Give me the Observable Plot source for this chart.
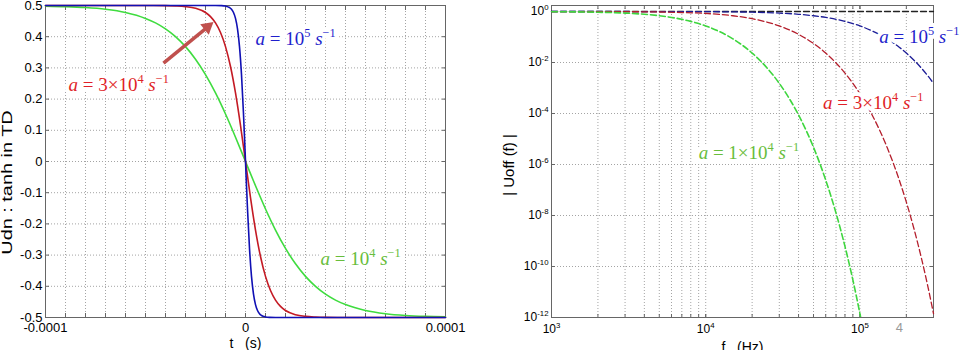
<!DOCTYPE html>
<html>
<head>
<meta charset="utf-8">
<script src="https://cdn.jsdelivr.net/npm/d3@7"></script>
<script src="https://cdn.jsdelivr.net/npm/@observablehq/plot@0.6"></script>
<style>
  html,body{margin:0;padding:0;background:#fff;}
  #wrap{display:flex;width:961px;height:350px;overflow:hidden;}
  #wrap svg{display:block;flex:none;}
</style>
</head>
<body>
<div id="wrap"></div>
<script>
// ================= LEFT PANEL : Udn(t) =================
const tGreen = [-10e-5,-9e-5,-8e-5,-7e-5,-6e-5,-5e-5,-4.5e-5,-4e-5,-3.5e-5,-3e-5,-2.5e-5,-2e-5,-1.5e-5,-1e-5,-0.5e-5,0,
                0.5e-5,1e-5,1.5e-5,2e-5,2.5e-5,3e-5,3.5e-5,4e-5,4.5e-5,5e-5,6e-5,7e-5,8e-5,9e-5,10e-5];
const uGreen = [0.4981,0.4965,0.4935,0.4879,0.4776,0.4586,0.4442,0.4251,0.4002,0.3681,0.3279,0.2785,0.2196,0.1521,0.0779,0,
                -0.0779,-0.1521,-0.2196,-0.2785,-0.3279,-0.3681,-0.4002,-0.4251,-0.4442,-0.4586,-0.4776,-0.4879,-0.4935,-0.4965,-0.4981];
const tRed = [-10e-5,-5e-5,-4e-5,-3.5e-5,-3e-5,-2.5e-5,-2e-5,-1.75e-5,-1.5e-5,-1.25e-5,-1e-5,-0.75e-5,-0.5e-5,-0.25e-5,0,
              0.25e-5,0.5e-5,0.75e-5,1e-5,1.25e-5,1.5e-5,1.75e-5,2e-5,2.5e-5,3e-5,3.5e-5,4e-5,5e-5,10e-5];
const uRed = [0.5,0.4999,0.4995,0.4986,0.4965,0.4911,0.4775,0.4644,0.4442,0.4134,0.3682,0.3044,0.2196,0.1157,0,
              -0.1157,-0.2196,-0.3044,-0.3682,-0.4134,-0.4442,-0.4644,-0.4775,-0.4911,-0.4965,-0.4986,-0.4995,-0.4999,-0.5];
const tBlue = [-10e-5,-1.5e-5,-1.2e-5,-1e-5,-0.8e-5,-0.7e-5,-0.6e-5,-0.5e-5,-0.4e-5,-0.3e-5,-0.2e-5,-0.1e-5,-0.05e-5,0,
               0.05e-5,0.1e-5,0.2e-5,0.3e-5,0.4e-5,0.5e-5,0.6e-5,0.7e-5,0.8e-5,1e-5,1.2e-5,1.5e-5,10e-5];
const uBlue = [0.5,0.5,0.4995,0.4981,0.4935,0.4879,0.4775,0.4586,0.4251,0.3682,0.2785,0.1521,0.0779,0,
               -0.0779,-0.1521,-0.2785,-0.3682,-0.4251,-0.4586,-0.4775,-0.4879,-0.4935,-0.4981,-0.4995,-0.5,-0.5];

const leftXTicks = [-1e-4, 0, 1e-4];
const leftXTickLabels = ["-0.0001", "0", "0.0001"];
const leftXGrid = [-9e-5,-8e-5,-7e-5,-6e-5,-5e-5,-4e-5,-3e-5,-2e-5,-1e-5,0,1e-5,2e-5,3e-5,4e-5,5e-5,6e-5,7e-5,8e-5,9e-5];
const leftYTicks = [0.5,0.4,0.3,0.2,0.1,0,-0.1,-0.2,-0.3,-0.4,-0.5];
const leftYTickLabels = ["0.5","0.4","0.3","0.2","0.1","0","-0.1","-0.2","-0.3","-0.4","-0.5"];
const leftYGrid = [0.4,0.3,0.2,0.1,0,-0.1,-0.2,-0.3,-0.4];

const leftLabelText = ["*a* = 10^{5} *s*^{−1}", "*a* = 3×10^{4} *s*^{−1}", "*a* = 10^{4} *s*^{−1}"];
const leftLabelT = [0.5e-5, -8.85e-5, 3.75e-5];
const leftLabelU = [0.392, 0.245, -0.311];
const arrowT = [-4.1e-5, -1.9e-5];
const arrowU = [0.315, 0.431];

// ================= RIGHT PANEL : |Uoff(f)| =================
const fGreen = [1e3,2e3,3e3,4e3,5e3,6e3,7e3,8e3,9e3,1e4,1.2e4,1.5e4,2e4,2.5e4,3e4,3.5e4,4e4,4.5e4,5e4,6e4,7e4,8e4,9e4,1e5,1.05e5];
const uOffGreen = [0.9838,0.9371,0.8660,0.7783,0.6826,0.5859,0.4938,0.4099,0.3358,0.2720,0.1739,0.08468,0.02347,6.098e-3,1.521e-3,
                   3.688e-4,8.767e-5,2.050e-5,4.734e-6,2.454e-7,1.239e-8,6.129e-10,2.984e-11,1.421e-12,3.105e-13];
const fRed = [1e3,2e3,3e3,5e3,7e3,1e4,1.5e4,2e4,3e4,4e4,5e4,6e4,7e4,8e4,9e4,1e5,1.2e5,1.35e5,1.5e5,1.65e5,1.8e5,2e5,2.25e5,2.5e5,2.75e5,3e5];
const uOffRed = [0.9982,0.9927,0.9838,0.9557,0.9157,0.8382,0.6826,0.5238,0.2720,0.1272,0.05573,0.02347,9.612e-3,3.853e-3,1.521e-3,
                 5.931e-4,8.767e-5,2.050e-5,4.734e-6,1.081e-6,2.454e-7,3.359e-8,2.762e-9,2.234e-10,1.790e-11,1.421e-12];
const fBlue = [1e3,3e3,1e4,2e4,3e4,4e4,5e4,6e4,7e4,8e4,9e4,1e5,1.2e5,1.5e5,1.75e5,2e5,2.25e5,2.5e5,2.75e5,3e5];
const uOffBlue = [0.9998,0.9985,0.9838,0.9371,0.8660,0.7783,0.6826,0.5859,0.4938,0.4099,0.3358,0.2720,0.1739,0.08468,0.04503,
                  0.02347,0.01203,6.098e-3,3.059e-3,1.521e-3];
const fBlack = [1e3, 3e5];
const uOffBlack = [1, 1];

const rightXTicks = [1e3, 1e4, 1e5];
const rightXTickLabels = ["10^{3}", "10^{4}", "10^{5}"];
const rightXGrid = [2e3,3e3,4e3,5e3,6e3,7e3,8e3,9e3,1e4,2e4,3e4,4e4,5e4,6e4,7e4,8e4,9e4,1e5,2e5];
const rightYTicks = [1, 1e-2, 1e-4, 1e-6, 1e-8, 1e-10, 1e-12];
const rightYTickLabels = ["10^{0}","10^{-2}","10^{-4}","10^{-6}","10^{-8}","10^{-10}","10^{-12}"];

const rightLabelText = ["*a* = 10^{5} *s*^{−1}", "*a* = 3×10^{4} *s*^{−1}", "*a* = 1×10^{4} *s*^{−1}"];
const rightLabelF = [1.334e5, 5.77e4, 9.0e3];
const rightLabelU = [0.105, 2.7e-4, 2.95e-6];
const pageNoText = ["4"];
const pageNoF = [1.8e5];
const pageNoU = [4.1e-13];

// ================= styles =================
const SANS = "'Liberation Sans', Arial, Helvetica, sans-serif";
const SERIF = "'Liberation Serif', 'Times New Roman', serif";
const GRID = "#a4a4a4";
const FRAME = "#666";
const leftLabelColors = ["#1f1fcc", "#e01f28", "#68bd3c"];
const rightLabelColors = ["#1f1fcc", "#e01f28", "#68bd3c"];
const ARROW = "#c0504d";

const rows = (xs, ys) => xs.map((x, i) => ({x, y: ys[i]}));
const pts = (xs, ys, ss) => xs.map((x, i) => ({x, y: ys[i], s: ss[i]}));
const lxMap = new Map(leftXTicks.map((d, i) => [d, leftXTickLabels[i]]));
const lyMap = new Map(leftYTicks.map((d, i) => [d, leftYTickLabels[i]]));
const rxMap = new Map(rightXTicks.map((d, i) => [d, rightXTickLabels[i]]));
const ryMap = new Map(rightYTicks.map((d, i) => [d, rightYTickLabels[i]]));

const gridOpts = {stroke: GRID, strokeOpacity: 1, strokeDasharray: "1,2"};
const inTick = {tickSize: -4, tickFormat: () => "", label: null, stroke: FRAME};
const mathText = {x: "x", y: "y", text: "s", fontFamily: SERIF, fontSize: 19, textAnchor: "start", lineAnchor: "middle"};

// white halo layer drawn first, coloured text on top
function mathLabels(data, colors) {
  return [
    Plot.text(data, {...mathText, fill: "white", stroke: "white", strokeWidth: 8, strokeLinejoin: "round"}),
    ...data.map((d, i) => Plot.text([d], {...mathText, fill: colors[i]}))
  ];
}

const left = Plot.plot({
  width: 480, height: 350,
  marginLeft: 45, marginRight: 35, marginTop: 5, marginBottom: 33,
  style: {fontFamily: SANS, fontSize: "13px", color: "#000", background: "#fff"},
  x: {domain: [-1e-4, 1e-4], label: null},
  y: {domain: [-0.5, 0.5], label: null},
  marks: [
    Plot.gridX(leftXGrid, gridOpts),
    Plot.gridY(leftYGrid, gridOpts),
    Plot.axisX(leftXGrid.concat(leftXTicks), {anchor: "bottom", ...inTick}),
    Plot.axisX(leftXGrid.concat(leftXTicks), {anchor: "top", ...inTick}),
    Plot.axisY(leftYTicks, {anchor: "left", ...inTick}),
    Plot.axisY(leftYTicks, {anchor: "right", ...inTick}),
    Plot.axisX(leftXTicks, {anchor: "bottom", tickSize: 0, tickPadding: 5, tickFormat: d => lxMap.get(d), label: null}),
    Plot.axisY(leftYTicks, {anchor: "left", tickSize: 0, tickPadding: 3, tickFormat: d => lyMap.get(d), label: null}),
    Plot.frame({stroke: FRAME}),
    Plot.line(rows(tGreen, uGreen), {x: "x", y: "y", stroke: "#3fdc3f", strokeWidth: 1.6, curve: "monotone-x"}),
    Plot.line(rows(tRed, uRed), {x: "x", y: "y", stroke: "#c41a24", strokeWidth: 1.6, curve: "monotone-x"}),
    Plot.line(rows(tBlue, uBlue), {x: "x", y: "y", stroke: "#1010b4", strokeWidth: 1.6, curve: "monotone-x"}),
    Plot.link([{x1: arrowT[0], y1: arrowU[0], x2: arrowT[1], y2: arrowU[1]}],
              {x1: "x1", y1: "y1", x2: "x2", y2: "y2", stroke: ARROW, strokeWidth: 3.5}),
    Plot.dot([{x: arrowT[1], y: arrowU[1]}], {x: "x", y: "y", symbol: "triangle", r: 5, fill: ARROW, stroke: null, rotate: 50.6}),
    ...mathLabels(pts(leftLabelT, leftLabelU, leftLabelText), leftLabelColors),
    Plot.text(["t\u00a0\u00a0\u00a0(s)"], {frameAnchor: "bottom", dy: 26, lineAnchor: "middle", textAnchor: "middle", text: d => d, fontSize: 14}),
    Plot.text(["Udn : tanh in TD"], {frameAnchor: "left", rotate: -90, dx: -43, dy: 21, lineAnchor: "top", textAnchor: "middle", text: d => d, fontSize: 14})
  ]
});

const right = Plot.plot({
  width: 481, height: 350,
  marginLeft: 71, marginRight: 28, marginTop: 5, marginBottom: 33,
  style: {fontFamily: SANS, fontSize: "12px", color: "#000", background: "#fff"},
  x: {type: "log", domain: [1e3, 3e5], label: null},
  y: {type: "log", domain: [1e-12, 1.72], label: null},
  marks: [
    Plot.gridX(rightXGrid, gridOpts),
    Plot.gridY(rightYTicks, gridOpts),
    Plot.axisX(rightXGrid.concat(rightXTicks), {anchor: "bottom", ...inTick, tickSize: -3}),
    Plot.axisX(rightXGrid.concat(rightXTicks), {anchor: "top", ...inTick, tickSize: -3}),
    Plot.axisY(rightYTicks, {anchor: "left", ...inTick}),
    Plot.axisY(rightYTicks, {anchor: "right", ...inTick}),
    Plot.axisX(rightXTicks, {anchor: "bottom", tickSize: 0, tickPadding: 7, tickFormat: d => rxMap.get(d), label: null}),
    Plot.axisY(rightYTicks, {anchor: "left", tickSize: 0, tickPadding: 3, tickFormat: d => ryMap.get(d), label: null}),
    Plot.frame({stroke: FRAME}),
    Plot.line(rows(fBlack, uOffBlack), {x: "x", y: "y", stroke: "#222", strokeWidth: 1.3, strokeDasharray: "6,3"}),
    Plot.line(rows(fBlue, uOffBlue), {x: "x", y: "y", stroke: "#1c1c96", strokeWidth: 1.3, strokeDasharray: "6,3", curve: "monotone-x"}),
    Plot.line(rows(fRed, uOffRed), {x: "x", y: "y", stroke: "#b41e2c", strokeWidth: 1.3, strokeDasharray: "6,3", curve: "monotone-x"}),
    Plot.line(rows(fGreen, uOffGreen), {x: "x", y: "y", stroke: "#3ed63e", strokeWidth: 1.6, strokeDasharray: "6,3", curve: "monotone-x", clip: true}),
    ...mathLabels(pts(rightLabelF, rightLabelU, rightLabelText), rightLabelColors),
    Plot.text(pts(pageNoF, pageNoU, pageNoText), {x: "x", y: "y", text: "s", fill: "#999", fontSize: 13}),
    Plot.text(["f\u00a0\u00a0\u00a0(Hz)"], {frameAnchor: "bottom", dy: 30, lineAnchor: "middle", textAnchor: "middle", text: d => d, fontSize: 14}),
    Plot.text(["| Uoff (f) |"], {frameAnchor: "left", rotate: -90, dx: -48, dy: 3.5, lineAnchor: "top", textAnchor: "middle", text: d => d, fontSize: 15})
  ]
});

const wrap = document.getElementById("wrap");
wrap.appendChild(left);
wrap.appendChild(right);

// rich text: *italic* and ^{superscript}
function richify(svg) {
  const NS = "http://www.w3.org/2000/svg";
  svg.querySelectorAll("text").forEach(t => {
    const s = t.textContent;
    if (!/[\^*]/.test(s) || t.querySelector("tspan")) return;
    const fs = parseFloat(getComputedStyle(t).fontSize) || 13;
    const rise = 0.42 * fs;
    t.textContent = "";
    const re = /\*([^*]+)\*|\^\{([^}]*)\}|([^*^]+)/g;
    let m, up = false;
    while ((m = re.exec(s))) {
      const sp = document.createElementNS(NS, "tspan");
      if (m[2] !== undefined) {
        sp.textContent = m[2];
        sp.setAttribute("font-size", (0.65 * fs).toFixed(2));
        if (!up) { sp.setAttribute("dy", (-rise).toFixed(2)); up = true; }
      } else {
        sp.textContent = m[1] !== undefined ? m[1] : m[3];
        if (m[1] !== undefined) sp.setAttribute("font-style", "italic");
        if (up) { sp.setAttribute("dy", rise.toFixed(2)); up = false; }
      }
      t.appendChild(sp);
    }
  });
}
richify(left);
richify(right);

// the reference's left axis title is drawn stretched along its length
left.querySelectorAll("text").forEach(t => {
  if (t.textContent === "Udn : tanh in TD") {
    const tr = t.getAttribute("transform") || "";
    t.setAttribute("transform", tr + " scale(1.42,1)");
  }
});
</script>
</body>
</html>
